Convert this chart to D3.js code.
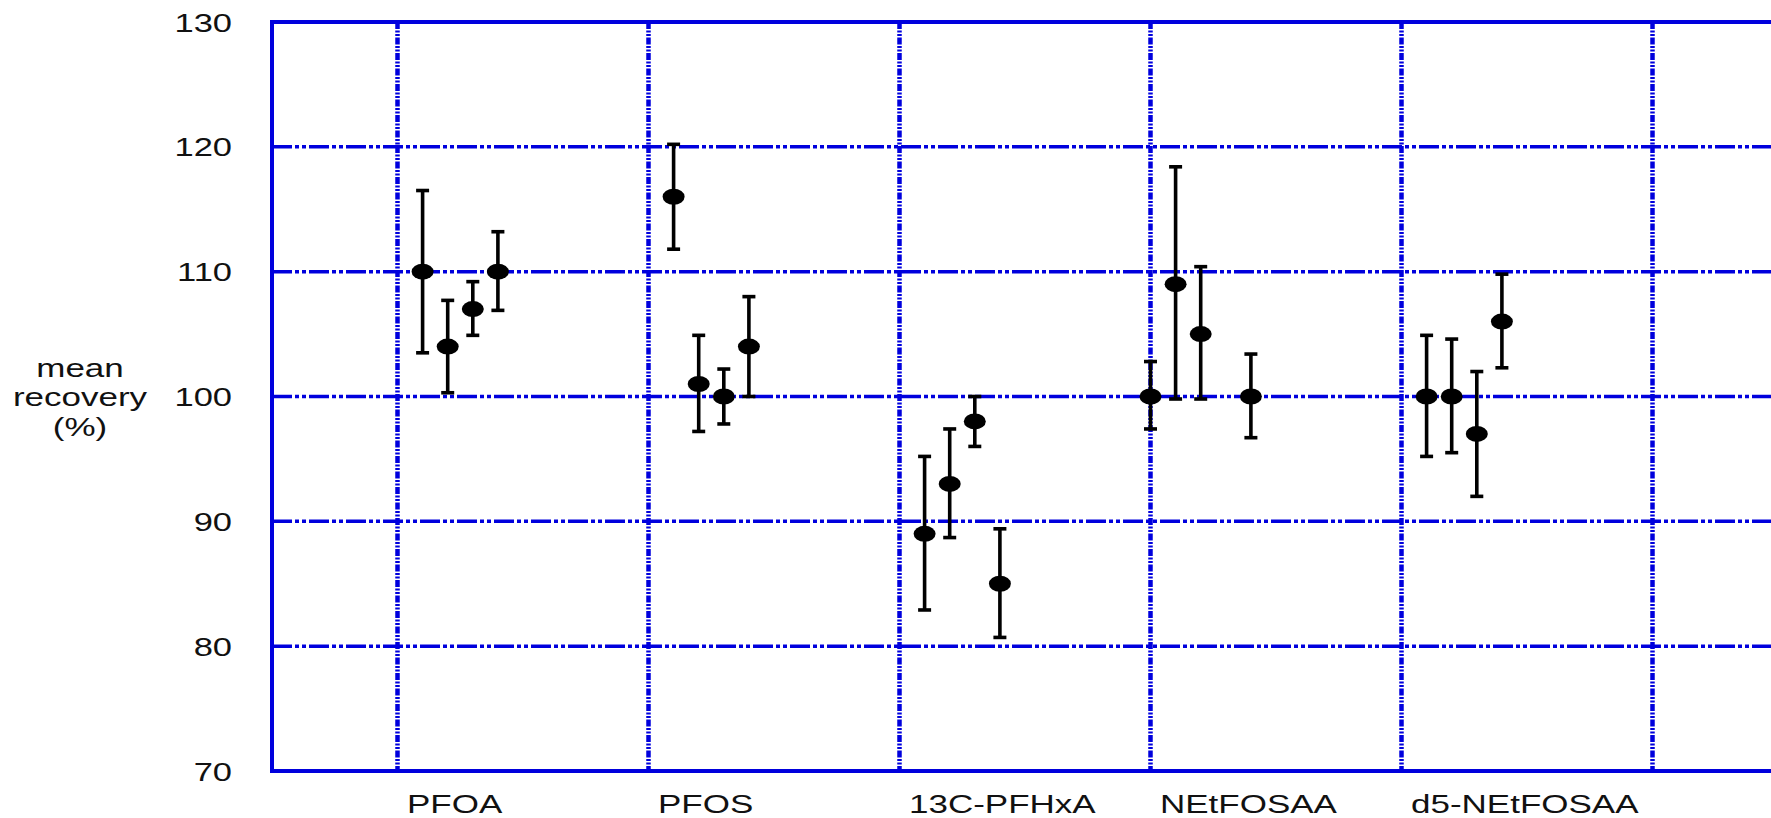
<!DOCTYPE html>
<html>
<head>
<meta charset="utf-8">
<script src="https://cdn.jsdelivr.net/npm/d3@7"></script>
<style>
  body { margin: 0; background: #fff; }
  svg { display: block; }
</style>
</head>
<body>
<div id="chart"></div>
<script>
// categories on the x axis
var categories = ["PFOA", "PFOS", "13C-PFHxA", "NEtFOSAA", "d5-NEtFOSAA"];
// x position of each point (category index + small shift)
var pointX = [
  [1.1, 1.2, 1.3, 1.4],
  [2.1, 2.2, 2.3, 2.4],
  [3.1, 3.2, 3.3, 3.4],
  [4.0, 4.1, 4.2, 4.4],
  [5.1, 5.2, 5.3, 5.4]
];
// mean recovery (%) and the ends of the error bars
var means = [
  [110, 104, 107, 110],
  [116, 101, 100, 104],
  [89, 93, 98, 85],
  [100, 109, 105, 100],
  [100, 100, 97, 106]
];
var upper = [
  [116.5, 107.7, 109.2, 113.2],
  [120.2, 104.9, 102.2, 108.0],
  [95.2, 97.4, 100.0, 89.4],
  [102.8, 118.4, 110.4, 103.4],
  [104.9, 104.6, 102.0, 109.8]
];
var lower = [
  [103.5, 100.3, 104.9, 106.9],
  [111.8, 97.2, 97.8, 100.0],
  [82.9, 88.7, 96.0, 80.7],
  [97.4, 99.8, 99.8, 96.7],
  [95.2, 95.5, 92.0, 102.3]
];
var yTicks = [70, 80, 90, 100, 110, 120, 130];
var xGrid = [1, 2, 3, 4, 5, 6];

var w = 1771;
var h = 818;
var blue = "#0000dd";
var font = "'Liberation Sans', Arial, sans-serif";

var x = d3.scaleLinear().domain([0.5, 6.5]).range([272, 1778]);
var y = d3.scaleLinear().domain([70, 130]).range([771, 22]);

var svg = d3.select("#chart").append("svg")
  .attr("width", w)
  .attr("height", h);

// flatten the arrays into one list of points
var points = [];
categories.forEach(function(c, i) {
  means[i].forEach(function(m, j) {
    points.push({ x: pointX[i][j], mean: m, hi: upper[i][j], lo: lower[i][j] });
  });
});

// horizontal grid (dash-dot-dot)
svg.append("g").selectAll("line")
  .data(yTicks.filter(function(d) { return d > 70 && d < 130; }))
  .enter().append("line")
  .attr("x1", x(0.5)).attr("x2", w)
  .attr("y1", function(d) { return y(d); })
  .attr("y2", function(d) { return y(d); })
  .attr("stroke", blue)
  .attr("stroke-width", 3.5)
  .attr("stroke-dasharray", "20,3,4,3,4,3");

// vertical grid
svg.append("g").selectAll("line")
  .data(xGrid)
  .enter().append("line")
  .attr("x1", function(d) { return x(d); })
  .attr("x2", function(d) { return x(d); })
  .attr("y1", y(130)).attr("y2", y(70))
  .attr("stroke", blue)
  .attr("stroke-width", 4.5)
  .attr("stroke-dasharray", "7,1.5,2,1.5,2,1.5");

// frame: left, top, bottom
var frame = svg.append("g").attr("stroke", blue).attr("stroke-width", 4);
frame.append("line").attr("x1", x(0.5)).attr("x2", x(0.5)).attr("y1", y(130) - 2).attr("y2", y(70) + 2);
frame.append("line").attr("x1", x(0.5)).attr("x2", w).attr("y1", y(130)).attr("y2", y(130));
frame.append("line").attr("x1", x(0.5)).attr("x2", w).attr("y1", y(70)).attr("y2", y(70));

// y tick labels
svg.append("g")
  .attr("transform", "translate(" + x(0.5) + ",0)")
  .call(d3.axisLeft(y).tickValues(yTicks).tickSize(0).tickPadding(0))
  .call(function(g) { g.select(".domain").remove(); })
  .selectAll("text")
  .attr("x", 0)
  .attr("dy", "0.36em")
  .attr("transform", "translate(-40,0) scale(1.38,1)")
  .attr("font-family", font)
  .attr("font-size", "25px")
  .attr("fill", "#111");

// category labels
svg.append("g")
  .attr("transform", "translate(0," + y(70) + ")")
  .call(d3.axisBottom(x).tickValues([1, 2, 3, 4, 5]).tickSize(0)
    .tickFormat(function(d) { return categories[d - 1]; }))
  .call(function(g) { g.select(".domain").remove(); })
  .selectAll("text")
  .attr("y", 0)
  .attr("dy", 0)
  .attr("text-anchor", "start")
  .attr("transform", "translate(9,42) scale(1.4,1)")
  .attr("font-family", font)
  .attr("font-size", "25px")
  .attr("fill", "#111");

// y axis title
svg.append("text")
  .attr("transform", "translate(80,0) scale(1.4,1)")
  .attr("text-anchor", "middle")
  .attr("font-family", font)
  .attr("font-size", "25px")
  .attr("fill", "#111")
  .selectAll("tspan")
  .data(["mean", "recovery", "(%)"])
  .enter().append("tspan")
  .attr("x", 0)
  .attr("y", function(d, i) { return 377 + i * 29.5; })
  .text(function(d) { return d; });

// error bars
var bars = svg.append("g").attr("stroke", "#000").attr("stroke-width", 3.6);
bars.selectAll(".stem").data(points).enter().append("line")
  .attr("x1", function(d) { return x(d.x); })
  .attr("x2", function(d) { return x(d.x); })
  .attr("y1", function(d) { return y(d.hi); })
  .attr("y2", function(d) { return y(d.lo); });
bars.selectAll(".capHi").data(points).enter().append("line")
  .attr("x1", function(d) { return x(d.x) - 6.5; })
  .attr("x2", function(d) { return x(d.x) + 6.5; })
  .attr("y1", function(d) { return y(d.hi); })
  .attr("y2", function(d) { return y(d.hi); });
bars.selectAll(".capLo").data(points).enter().append("line")
  .attr("x1", function(d) { return x(d.x) - 6.5; })
  .attr("x2", function(d) { return x(d.x) + 6.5; })
  .attr("y1", function(d) { return y(d.lo); })
  .attr("y2", function(d) { return y(d.lo); });

// mean markers
svg.append("g").selectAll("ellipse")
  .data(points)
  .enter().append("ellipse")
  .attr("cx", function(d) { return x(d.x); })
  .attr("cy", function(d) { return y(d.mean); })
  .attr("rx", 11)
  .attr("ry", 8)
  .attr("fill", "#000");
</script>
</body>
</html>
